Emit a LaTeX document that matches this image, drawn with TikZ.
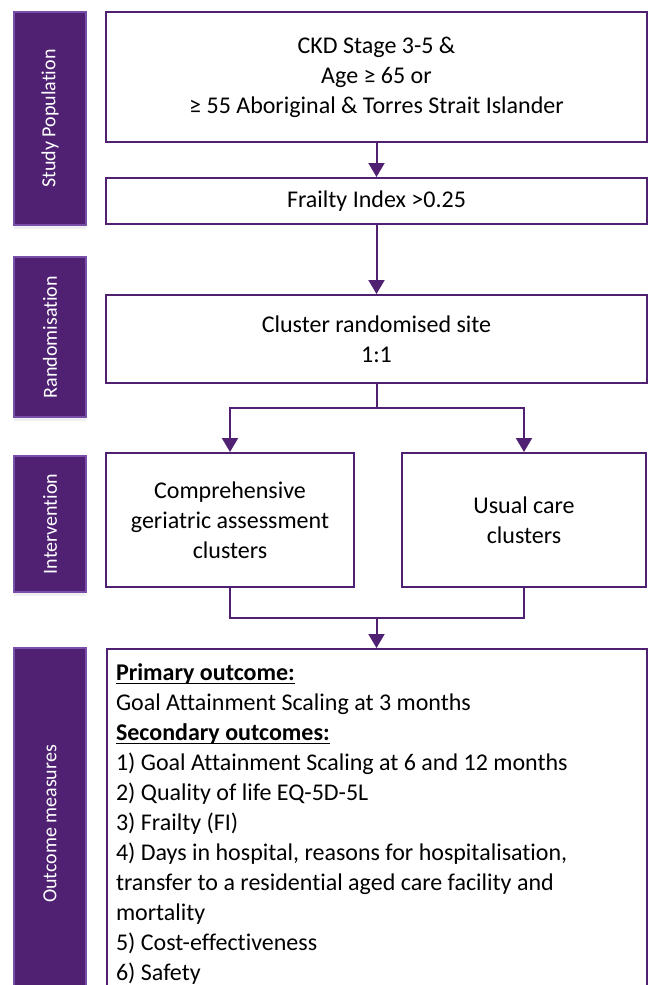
\documentclass[tikz,border=0pt]{standalone}
\usepackage{fontspec}
\setmainfont{Carlito}[Ligatures=NoCommon]
\usetikzlibrary{arrows.meta,shadows}

\definecolor{studypurple}{RGB}{80,33,115}
\definecolor{barline}{RGB}{120,80,170}
\newcommand\outhead[1]{\underline{\smash{\textbf{#1}}\vphantom{P}}}

\begin{document}
\begin{tikzpicture}[x=0.5pt,y=-0.5pt,
    stagebar/.style={fill=studypurple,draw=barline,line width=0.6pt,minimum height=36pt,
      text=white,font=\fontsize{10}{12}\selectfont,rotate=90,inner sep=0pt,
      drop shadow={opacity=0.12,shadow xshift=0pt,shadow yshift=-2pt}},
    flowbox/.style={draw=studypurple,line width=1pt,fill=white,align=center,
      font=\fontsize{12}{15}\selectfont,inner sep=0pt},
    flowline/.style={draw=studypurple,line width=1pt},
    flowarrow/.style={flowline,-{Triangle[width=8pt,length=7pt]}}]
    \useasboundingbox (0,0) rectangle (649,985);
    % stage labels on the left
    \node[stagebar,minimum width=106.5pt] (sp) at (50,118.5) {Study Population};
    \node[stagebar,minimum width=80pt] (rd) at (50,337) {Randomisation};
    \node[stagebar,minimum width=68pt] (iv) at (50,524) {Intervention};
    \node[stagebar,minimum width=176pt] (om) at (50,824) {Outcome measures};
    % flow boxes
    \node[flowbox,minimum width=270.5pt,minimum height=65pt] (pop) at (376.5,77)
      {CKD Stage 3-5 \&\\Age ≥ 65 or\\≥ 55 Aboriginal \& Torres Strait Islander};
    \node[flowbox,minimum width=270.5pt,minimum height=23pt] (fi) at (376.5,201)
      {Frailty Index >0.25};
    \node[flowbox,minimum width=270.5pt,minimum height=44pt] (rand) at (376.5,339)
      {Cluster randomised site\\1:1};
    \node[flowbox,minimum width=124pt,minimum height=67pt] (cga) at (230,520)
      {Comprehensive\\geriatric assessment\\clusters};
    \node[flowbox,minimum width=122pt,minimum height=67pt] (usual) at (524,520)
      {Usual care\\clusters};
    \node[flowbox,text width=261pt,minimum height=176pt,align=flush left,anchor=north west,
      inner xsep=4.5pt,inner ysep=4pt] (out) at (106,648)
      {\outhead{Primary outcome:}\\
       Goal Attainment Scaling at 3 months\\
       \outhead{Secondary outcomes:}\\
       1) Goal Attainment Scaling at 6 and 12 months\\
       2) Quality of life EQ-5D-5L\\
       3) Frailty (FI)\\
       4) Days in hospital, reasons for hospitalisation,\\
       transfer to a residential aged care facility and\\
       mortality\\
       5) Cost-effectiveness\\
       6) Safety};
    % connectors
    \coordinate (split) at (376.5,408);
    \coordinate (merge) at (376.5,618);
    \draw[flowarrow] (pop) -- (fi);
    \draw[flowarrow] (fi) -- (rand);
    \draw[flowline] (rand.south) -- (split);
    \draw[flowarrow] (split) -| (cga.north);
    \draw[flowarrow] (split) -| (usual.north);
    \draw[flowline] (cga.south) |- (merge);
    \draw[flowline] (usual.south) |- (merge);
    \draw[flowarrow] (merge) -- (merge |- out.north);
\end{tikzpicture}
\end{document}
